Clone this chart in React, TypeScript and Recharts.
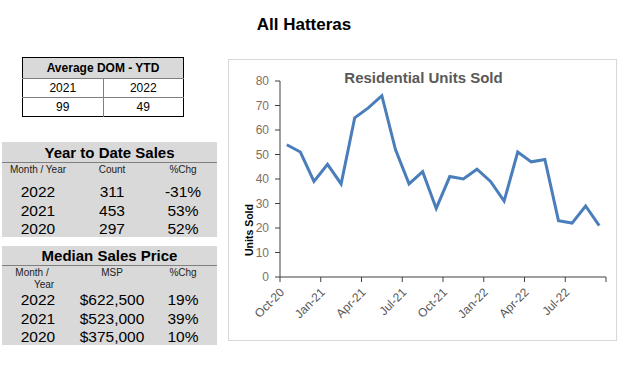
import React from 'react';
import { LineChart, Line, XAxis, YAxis } from 'recharts';

// monthly residential units sold, Oct-20 .. Sep-22
const months = [
  'Oct-20', 'Nov-20', 'Dec-20', 'Jan-21', 'Feb-21', 'Mar-21', 'Apr-21', 'May-21',
  'Jun-21', 'Jul-21', 'Aug-21', 'Sep-21', 'Oct-21', 'Nov-21', 'Dec-21', 'Jan-22',
  'Feb-22', 'Mar-22', 'Apr-22', 'May-22', 'Jun-22', 'Jul-22', 'Aug-22', 'Sep-22',
];
const unitsSold = [54, 51, 39, 46, 38, 65, 69, 74, 52, 38, 43, 28, 41, 40, 44, 39, 31, 51, 47, 48, 23, 22, 29, 21];
const tickLabels = ['Oct-20', 'Jan-21', 'Apr-21', 'Jul-21', 'Oct-21', 'Jan-22', 'Apr-22', 'Jul-22'];
const yTicks = [0, 10, 20, 30, 40, 50, 60, 70, 80];

const domYears = ['2021', '2022'];
const domValues = ['99', '49'];

const ytdYears = ['2022', '2021', '2020'];
const ytdCounts = ['311', '453', '297'];
const ytdChg = ['-31%', '53%', '52%'];

const mspYears = ['2022', '2021', '2020'];
const mspValues = ['$622,500', '$523,000', '$375,000'];
const mspChg = ['19%', '39%', '10%'];

// each month sits in the middle of its slot, ticks on slot edges
const data = months.map((m, i) => ({ month: m, slot: i + 0.5, units: unitsSold[i] }));

const ARIAL = '"Liberation Sans", Arial, sans-serif';

const XTick = (props: any) => {
  const { x, y, payload } = props;
  const label = tickLabels[payload.value / 3] ?? '';
  return (
    <text
      transform={`translate(${x + 5},${y + 9}) rotate(-45)`}
      textAnchor="end"
      fontSize={12}
      fontFamily={ARIAL}
      fill="#595959"
    >
      {label}
    </text>
  );
};

const cell = (w: number, extra: React.CSSProperties = {}): React.CSSProperties => ({
  width: w,
  textAlign: 'center',
  ...extra,
});

const StatRows = ({ a, b, c, top }: { a: string[]; b: string[]; c: string[]; top: number }) => (
  <div style={{ position: 'absolute', top, left: 0, width: '100%' }}>
    {a.map((v, i) => (
      <div key={v + i} style={{ display: 'flex', height: 18.5, lineHeight: '18px', fontSize: 15.5 }}>
        <div style={cell(72)}>{v}</div>
        <div style={cell(76)}>{b[i]}</div>
        <div style={cell(66)}>{c[i]}</div>
      </div>
    ))}
  </div>
);

export default function App() {
  return (
    <div
      style={{
        position: 'absolute',
        left: 0,
        top: 0,
        width: 624,
        height: 371,
        background: '#fff',
        fontFamily: ARIAL,
        color: '#000',
      }}
    >
      <div style={{ position: 'absolute', left: 200, width: 208, top: 15, textAlign: 'center', fontSize: 17, fontWeight: 'bold' }}>
        All Hatteras
      </div>

      {/* Average DOM table */}
      <table
        style={{
          position: 'absolute',
          left: 22,
          top: 57,
          width: 162,
          borderCollapse: 'collapse',
          border: '1.5px solid #000',
          fontSize: 12,
          textAlign: 'center',
        }}
      >
        <tbody>
          <tr style={{ height: 21, background: '#d9d9d9' }}>
            <td colSpan={2} style={{ fontWeight: 'bold', padding: 0, borderBottom: '1px solid #7f7f7f' }}>
              Average DOM - YTD
            </td>
          </tr>
          <tr style={{ height: 19 }}>
            {domYears.map((y, i) => (
              <td key={y} style={{ padding: 0, width: '50%', borderBottom: '1px solid #7f7f7f', borderLeft: i ? '1px solid #7f7f7f' : undefined }}>
                {y}
              </td>
            ))}
          </tr>
          <tr style={{ height: 19 }}>
            {domValues.map((v, i) => (
              <td key={i} style={{ padding: 0, borderLeft: i ? '1px solid #7f7f7f' : undefined }}>
                {v}
              </td>
            ))}
          </tr>
        </tbody>
      </table>

      {/* Year to Date Sales */}
      <div style={{ position: 'absolute', left: 2, top: 142, width: 215, height: 95, background: '#d9d9d9' }}>
        <div style={{ height: 21, lineHeight: '21px', textAlign: 'center', fontSize: 15, fontWeight: 'bold', borderBottom: '1px solid #7f7f7f', boxSizing: 'border-box' }}>
          Year to Date Sales
        </div>
        <div style={{ display: 'flex', fontSize: 10, lineHeight: '12px', color: '#222', marginTop: 1 }}>
          <div style={cell(72)}>Month / Year</div>
          <div style={cell(76)}>Count</div>
          <div style={cell(66)}>%Chg</div>
        </div>
        <StatRows a={ytdYears} b={ytdCounts} c={ytdChg} top={41} />
      </div>

      {/* Median Sales Price */}
      <div style={{ position: 'absolute', left: 2, top: 246, width: 215, height: 99, background: '#d9d9d9' }}>
        <div style={{ height: 20, lineHeight: '20px', textAlign: 'center', fontSize: 15, fontWeight: 'bold', borderBottom: '1px solid #7f7f7f', boxSizing: 'border-box' }}>
          Median Sales Price
        </div>
        <div style={{ display: 'flex', fontSize: 10, lineHeight: '12px', color: '#222', marginTop: 1 }}>
          <div style={cell(72)}>
            <div style={{ paddingRight: 12 }}>Month /</div>
            <div style={{ paddingLeft: 12 }}>Year</div>
          </div>
          <div style={cell(76)}>MSP</div>
          <div style={cell(66)}>%Chg</div>
        </div>
        <StatRows a={mspYears} b={mspValues} c={mspChg} top={45} />
      </div>

      {/* chart box */}
      <div
        style={{
          position: 'absolute',
          left: 228,
          top: 59,
          width: 389,
          height: 282,
          border: '1px solid #d9d9d9',
          boxSizing: 'border-box',
        }}
      >
        <LineChart width={387} height={280} data={data} margin={{ top: 21, right: 10, left: 0, bottom: 0 }}>
          <XAxis
            dataKey="slot"
            type="number"
            domain={[0, 24]}
            ticks={[0, 3, 6, 9, 12, 15, 18, 21, 24]}
            interval={0}
            height={63}
            tickSize={5}
            tickMargin={2}
            stroke="#404040"
            tick={<XTick />}
          />
          <YAxis
            domain={[0, 80]}
            ticks={yTicks}
            interval={0}
            width={51}
            tickSize={5}
            tickMargin={6}
            stroke="#404040"
            tick={{ fontSize: 12, fontFamily: ARIAL, fill: '#7f6f5f' }}
          />
          <Line
            type="linear"
            dataKey="units"
            stroke="#4a7ebb"
            strokeWidth={3}
            dot={false}
            isAnimationActive={false}
          />
        </LineChart>
        <div style={{ position: 'absolute', left: 0, width: 389, top: 9, textAlign: 'center', fontSize: 15, fontWeight: 'bold', color: '#595959' }}>
          Residential Units Sold
        </div>
        <div
          style={{
            position: 'absolute',
            left: 20,
            top: 170,
            transform: 'translate(-50%,-50%) rotate(-90deg)',
            fontSize: 10.5,
            fontWeight: 'bold',
            whiteSpace: 'nowrap',
          }}
        >
          Units Sold
        </div>
      </div>
    </div>
  );
}
